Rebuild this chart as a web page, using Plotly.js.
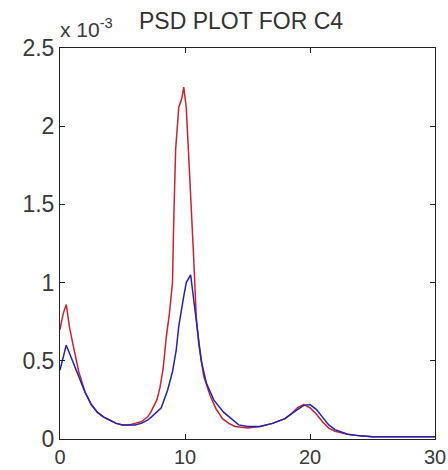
<!DOCTYPE html>
<html>
<head>
<meta charset="utf-8">
<script src="https://cdn.plot.ly/plotly-3.0.1.min.js"></script>
<style>html,body{margin:0;padding:0;background:#fff;}#chart{width:448px;height:470px;}</style>
</head>
<body>
<div id="chart"></div>
<script>
// Frequency (Hz) and PSD values in units of 1e-3
var freqRed = [0, 0.25, 0.5, 0.75, 1.0, 1.5, 2.0, 2.5, 3.0, 3.5, 4.0, 4.5, 5.0, 5.5, 6.0, 6.5, 7.0, 7.25, 7.75, 8.0, 8.25, 8.5, 8.75, 9.0, 9.1, 9.25, 9.5, 9.75, 9.9, 10.1, 10.3, 10.5, 10.7, 10.9, 11.1, 11.5, 12.0, 12.5, 13.0, 13.5, 14.0, 15.0, 16.0, 17.0, 18.0, 18.5, 19.0, 19.5, 20.0, 20.5, 21.0, 21.5, 22.0, 23.0, 24.0, 25.0, 26.0, 27.0, 28.0, 29.0, 30.0];
var psdRed = [0.70, 0.80, 0.86, 0.72, 0.62, 0.43, 0.30, 0.22, 0.17, 0.14, 0.12, 0.10, 0.09, 0.09, 0.10, 0.11, 0.14, 0.17, 0.25, 0.33, 0.45, 0.65, 0.80, 1.00, 1.40, 1.85, 2.12, 2.18, 2.25, 2.12, 1.80, 1.50, 1.15, 0.78, 0.61, 0.40, 0.28, 0.19, 0.13, 0.10, 0.08, 0.07, 0.08, 0.10, 0.13, 0.16, 0.20, 0.22, 0.20, 0.16, 0.11, 0.07, 0.05, 0.03, 0.02, 0.015, 0.015, 0.015, 0.015, 0.015, 0.015];

var freqBlue = [0, 0.25, 0.5, 0.75, 1.0, 1.5, 2.0, 2.5, 3.0, 3.5, 4.0, 4.5, 5.0, 5.5, 6.0, 6.5, 7.0, 7.3, 7.7, 8.1, 8.6, 9.0, 9.3, 9.5, 9.85, 10.1, 10.45, 10.7, 11.0, 11.3, 11.7, 12.3, 13.1, 14.3, 15.0, 16.0, 17.0, 18.0, 18.5, 19.0, 19.5, 20.0, 20.5, 21.0, 21.5, 22.0, 22.5, 23.0, 24.0, 25.0, 26.0, 27.0, 28.0, 29.0, 30.0];
var psdBlue = [0.44, 0.52, 0.60, 0.55, 0.50, 0.40, 0.30, 0.22, 0.17, 0.14, 0.12, 0.10, 0.09, 0.09, 0.09, 0.10, 0.12, 0.14, 0.17, 0.20, 0.31, 0.43, 0.57, 0.72, 0.89, 1.00, 1.05, 0.89, 0.68, 0.50, 0.36, 0.25, 0.17, 0.09, 0.08, 0.08, 0.10, 0.13, 0.16, 0.19, 0.215, 0.22, 0.19, 0.14, 0.09, 0.06, 0.045, 0.03, 0.02, 0.015, 0.015, 0.015, 0.015, 0.015, 0.015];

var xTicks = [0, 10, 20, 30];
var yTicks = [0, 0.5, 1, 1.5, 2, 2.5];
var yTickLabels = ['0', '0.5', '1', '1.5', '2', '2.5'];
var titleText = 'PSD PLOT FOR C4';
var exponentText = 'x 10<sup>-3</sup>';

var traces = [
  {x: freqRed, y: psdRed, mode: 'lines', line: {color: 'rgb(205,35,45)', width: 1.5}, hoverinfo: 'none'},
  {x: freqBlue, y: psdBlue, mode: 'lines', line: {color: 'rgb(35,35,185)', width: 1.5}, hoverinfo: 'none'}
];

var axisCommon = {
  showgrid: false, zeroline: false, showline: true, linecolor: '#222', linewidth: 1,
  mirror: 'ticks', ticks: 'inside', ticklen: 5, tickcolor: '#222',
  tickfont: {family: 'Liberation Sans, Arial, sans-serif', size: 23, color: '#3a3a3a'}
};

var layout = {
  width: 448, height: 470,
  margin: {l: 60, r: 13, t: 48, b: 31},
  paper_bgcolor: '#fff', plot_bgcolor: '#fff',
  showlegend: false,
  xaxis: Object.assign({}, axisCommon, {range: [0, 30], tickvals: xTicks, ticktext: xTicks.map(String), ticklabelstandoff: 0,
    tickfont: {family: 'Liberation Sans, Arial, sans-serif', size: 20, color: '#3a3a3a'}}),
  yaxis: Object.assign({}, axisCommon, {range: [0, 2.5], tickvals: yTicks, ticktext: yTickLabels}),
  annotations: [
    {text: exponentText, xref: 'paper', yref: 'paper', x: -0.005, y: 1.05, xanchor: 'left', yanchor: 'middle', showarrow: false,
     font: {family: 'Liberation Sans, Arial, sans-serif', size: 21, color: '#3a3a3a'}},
    {text: titleText, xref: 'paper', yref: 'paper', x: 0.205, y: 1.068, xanchor: 'left', yanchor: 'middle', showarrow: false,
     font: {family: 'Liberation Sans, Arial, sans-serif', size: 23, color: '#333'}}
  ]
};

Plotly.newPlot('chart', traces, layout, {staticPlot: true, displayModeBar: false});
</script>
</body>
</html>
